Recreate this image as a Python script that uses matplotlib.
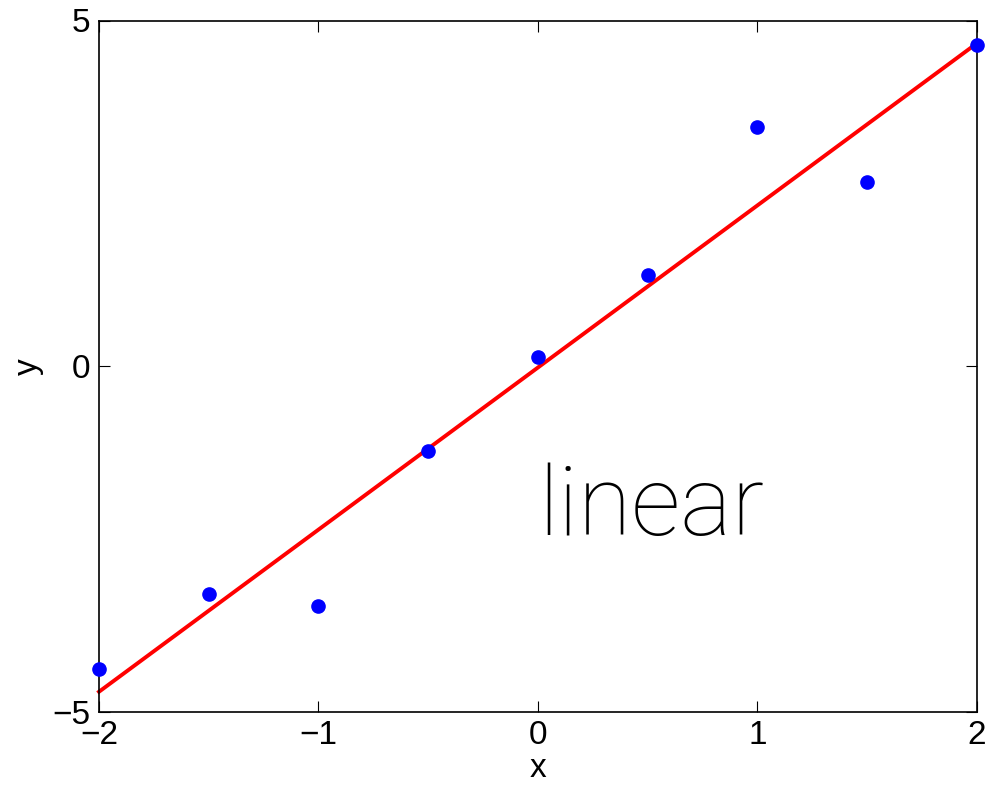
import numpy as np
import matplotlib
matplotlib.use("Agg")
import matplotlib.pyplot as plt

# Sample points
x = [-2.0, -1.5, -1.0, -0.5, 0.0, 0.5, 1.0, 1.5, 2.0]
y = [-4.38, -3.29, -3.47, -1.23, 0.13, 1.32, 3.46, 2.66, 4.64]
xticks = [-2, -1, 0, 1, 2]
yticks = [-5, 0, 5]

plt.rcParams['font.family'] = ['Liberation Sans', 'DejaVu Sans']

fig = plt.figure(figsize=(9.87, 7.92), dpi=100)
ax = fig.add_axes([99 / 987, 1 - 712 / 792, (977 - 99) / 987, (712 - 20.5) / 792])

# Least-squares linear fit
coef = np.polyfit(x, y, 1)
xf = np.array([min(x), max(x)])
ax.plot(xf, np.polyval(coef, xf), color='#ff0000', lw=2.8, clip_on=False, zorder=2)
ax.plot(x, y, 'o', color='#0000ff', ms=9.5, mec='#0000ff', clip_on=False, zorder=3)

ax.set_xlim(-2, 2)
ax.set_ylim(-5, 5)
ax.set_xticks(xticks)
ax.set_yticks(yticks)
ax.set_xticklabels([f"\u2212{abs(t)}" if t < 0 else str(t) for t in xticks])
ax.set_yticklabels([f"\u2212{abs(t)}" if t < 0 else str(t) for t in yticks])
ax.tick_params(direction='in', length=8, width=0.8, labelsize=24,
               top=True, right=True, pad=6)
for s in ax.spines.values():
    s.set_linewidth(1.2)

ax.set_xlabel('x', fontsize=24, labelpad=1)
ax.set_ylabel('y', fontsize=24, labelpad=6)

ax.text(0.0, -2.44, 'linear', fontsize=70, family=['Roboto', 'DejaVu Sans'],
        fontweight='light', ha='left', va='baseline')

fig.savefig('out.png', dpi=100)
